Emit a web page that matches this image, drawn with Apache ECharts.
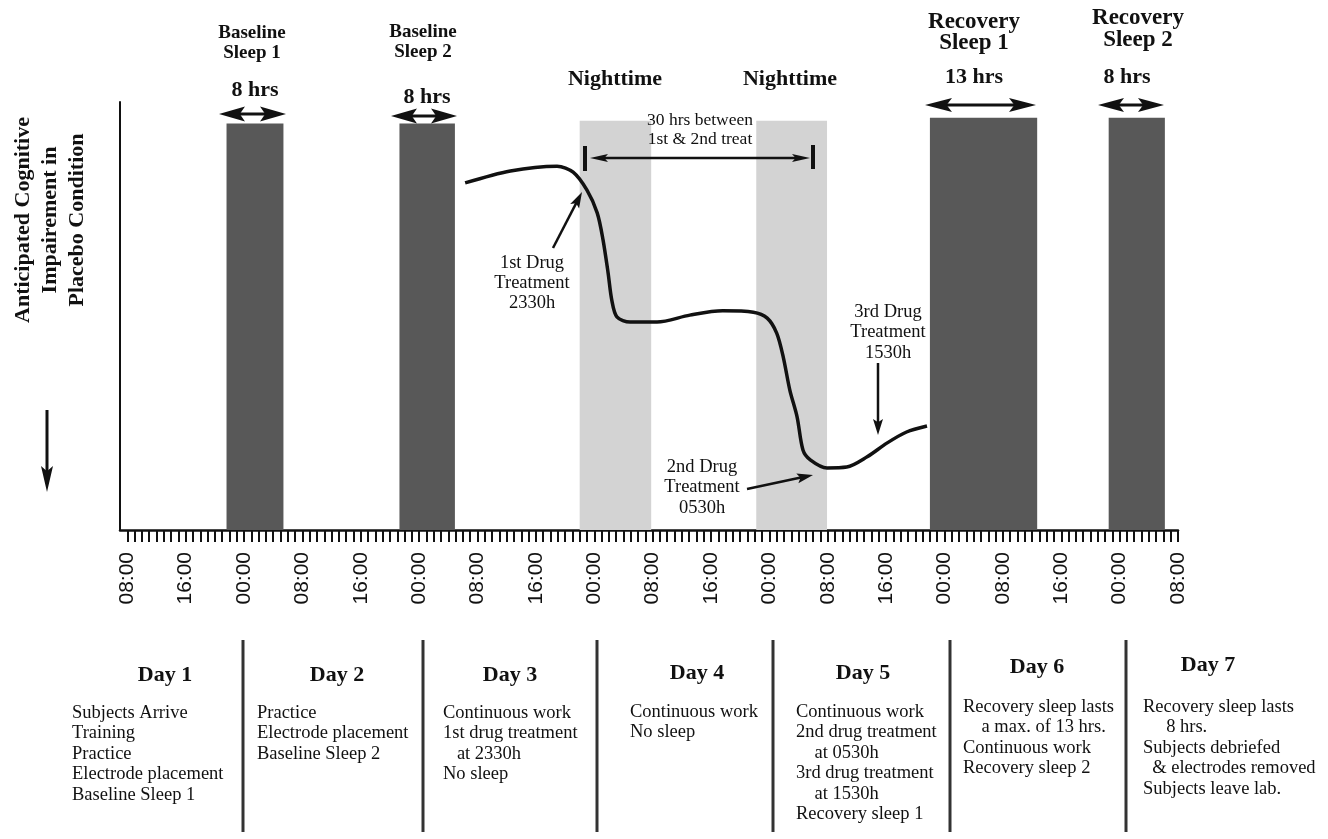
<!DOCTYPE html>
<html>
<head>
<meta charset="utf-8">
<script src="https://cdn.jsdelivr.net/npm/echarts@6/dist/echarts.min.js"></script>
<style>
  html, body { margin: 0; padding: 0; background: #fff; }
  #chart { width: 1328px; height: 839px; }
</style>
</head>
<body>
<div id="chart"></div>
<script>
// time is counted in hours from 00:00 on Day 1
var sleepStart = [21.6, 45.3, 70.0, 94.2, 118.0, 142.5];
var sleepEnd   = [29.4, 52.9, 79.8, 103.9, 132.7, 150.2];
var sleepTop   = [95.0, 95.0, 95.6, 95.6, 96.3, 96.3];
var sleepDark  = [1, 1, 0, 0, 1, 1];   // 1 = sleep, 0 = nighttime awake

// anticipated impairment curve (higher = less impaired)
var curveHours = [54.3, 60.5, 66.9, 69.1, 71.0, 72.4, 73.2, 73.9, 74.4, 75.1, 76.9, 80.6, 85.1, 89.6,
                  93.8, 95.7, 97.0, 97.9, 98.8, 99.8, 100.6, 101.6, 103.9, 106.6, 109.4, 112.1, 114.8, 117.6];
var curveLevel = [81.1, 83.9, 85.0, 83.6, 79.4, 74.1, 67.8, 60.0, 53.7, 49.8, 48.6, 48.6, 50.2, 51.2,
                  50.9, 49.5, 46.0, 40.4, 32.7, 26.4, 18.7, 16.4, 14.5, 14.7, 17.1, 20.3, 22.9, 24.3];

var dayTitles = ['Day 1', 'Day 2', 'Day 3', 'Day 4', 'Day 5', 'Day 6', 'Day 7'];
var dayNotes = [
  'Subjects Arrive\nTraining\nPractice\nElectrode placement\nBaseline Sleep 1',
  'Practice\nElectrode placement\nBaseline Sleep 2',
  'Continuous work\n1st drug treatment\n   at 2330h\nNo sleep',
  'Continuous work\nNo sleep',
  'Continuous work\n2nd drug treatment\n    at 0530h\n3rd drug treatment\n    at 1530h\nRecovery sleep 1',
  'Recovery sleep lasts\n    a max. of 13 hrs.\nContinuous work\nRecovery sleep 2',
  'Recovery sleep lasts\n     8 hrs.\nSubjects debriefed\n  & electrodes removed\nSubjects leave lab.'
];

var SERIF = '"Liberation Serif", "Times New Roman", serif';
var INK = '#111';

function txt(str, x, y, size, bold, align, lh) {
  var out = [];
  str.split('\n').forEach(function (line, i) {
    out.push({
      type: 'text', x: x, y: y + i * (lh || 0), z: 100,
      style: {
        text: line, fill: INK,
        font: (bold ? 'bold ' : '') + size + 'px ' + SERIF,
        align: align || 'center', textAlign: align || 'center',
        verticalAlign: 'middle', textVerticalAlign: 'middle'
      }
    });
  });
  return out;
}

function head(tx, ty, fx, fy, len, wid) {
  var dx = tx - fx, dy = ty - fy, d = Math.sqrt(dx * dx + dy * dy);
  var ux = dx / d, uy = dy / d, px = -uy, py = ux;
  var bx = tx - ux * len, by = ty - uy * len;
  return {
    type: 'polygon', z: 100,
    shape: { points: [[tx, ty], [bx + px * wid / 2, by + py * wid / 2],
                      [tx - ux * len * 0.8, ty - uy * len * 0.8],
                      [bx - px * wid / 2, by - py * wid / 2]] },
    style: { fill: INK }
  };
}

function line(x1, y1, x2, y2, w) {
  return { type: 'line', z: 100, shape: { x1: x1, y1: y1, x2: x2, y2: y2 },
           style: { stroke: INK, lineWidth: w || 2 } };
}

function arrow(x1, y1, x2, y2, len, wid, w) {
  var dx = x2 - x1, dy = y2 - y1, d = Math.sqrt(dx * dx + dy * dy);
  return [line(x1, y1, x2 - dx / d * len * 0.7, y2 - dy / d * len * 0.7, w),
          head(x2, y2, x1, y1, len, wid)];
}

function dblArrow(x1, x2, y, len, wid, w) {
  return [line(x1 + len * 0.7, y, x2 - len * 0.7, y, w),
          head(x1, y, x2, y, len, wid), head(x2, y, x1, y, len, wid)];
}

var g = [];
// axis title
g.push({
  type: 'text', x: 50, y: 220, rotation: Math.PI / 2, z: 100,
  style: {
    text: 'Anticipated Cognitive\nImpairement in\nPlacebo Condition', fill: INK,
    font: 'bold 22px ' + SERIF, lineHeight: 27,
    align: 'center', textAlign: 'center', verticalAlign: 'middle', textVerticalAlign: 'middle'
  }
});
g = g.concat(arrow(47, 410, 47, 492, 26, 12, 3));

// labels over the sleep periods
g = g.concat(txt('Baseline\nSleep 1', 252, 33, 19, true, 'center', 20));
g = g.concat(txt('8 hrs', 255, 90, 22, true));
g = g.concat(dblArrow(219, 286, 114, 26, 15, 3));
g = g.concat(txt('Baseline\nSleep 2', 423, 32, 19, true, 'center', 20));
g = g.concat(txt('8 hrs', 427, 97, 22, true));
g = g.concat(dblArrow(391, 457, 116, 26, 15, 3));
g = g.concat(txt('Nighttime', 615, 79, 22, true));
g = g.concat(txt('Nighttime', 790, 79, 22, true));
g = g.concat(txt('Recovery\nSleep 1', 974, 22, 23, true, 'center', 21));
g = g.concat(txt('13 hrs', 974, 77, 22, true));
g = g.concat(dblArrow(925, 1036, 105, 27, 14, 3));
g = g.concat(txt('Recovery\nSleep 2', 1138, 18, 23, true, 'center', 22));
g = g.concat(txt('8 hrs', 1127, 77, 22, true));
g = g.concat(dblArrow(1098, 1164, 105, 26, 14, 3));

// 30 hours between treatments
g = g.concat(txt('30 hrs between\n1st & 2nd treat', 700, 120, 17.5, false, 'center', 19));
g = g.concat(dblArrow(590, 810, 158, 18, 8, 2.5));
g.push(line(585, 146, 585, 171, 4));
g.push(line(813, 145, 813, 169, 4));

// treatment callouts
g = g.concat(txt('1st Drug\nTreatment\n2330h', 532, 263, 18.5, false, 'center', 20));
g = g.concat(arrow(553, 248, 582, 192, 16, 10, 2.5));
g = g.concat(txt('2nd Drug\nTreatment\n0530h', 702, 467, 18.5, false, 'center', 20.5));
g = g.concat(arrow(747, 489, 813, 475, 16, 10, 2.5));
g = g.concat(txt('3rd Drug\nTreatment\n1530h', 888, 312, 18.5, false, 'center', 20.5));
g = g.concat(arrow(878, 363, 878, 435, 16, 10, 2.5));

// day table below the axis
var dividerX = [243, 423, 597, 773, 950, 1126];
dividerX.forEach(function (x) {
  g.push({ type: 'line', z: 100, shape: { x1: x, y1: 640, x2: x, y2: 832 },
           style: { stroke: '#333', lineWidth: 3 } });
});
var titleX = [165, 337, 510, 697, 863, 1037, 1208];
var titleY = [675, 675, 675, 673, 673, 667, 665];
var noteX = [72, 257, 443, 630, 796, 963, 1143];
var noteY = [713, 713, 713, 712, 712, 707, 707];
dayTitles.forEach(function (t, i) {
  g = g.concat(txt(t, titleX[i], titleY[i], 22, true));
  g = g.concat(txt(dayNotes[i], noteX[i], noteY[i], 18.5, false, 'left', 20.5));
});

var chart = echarts.init(document.getElementById('chart'));
chart.setOption({
  animation: false,
  backgroundColor: '#fff',
  grid: { left: 120, top: 102, width: 1058, height: 428 },
  xAxis: {
    type: 'value', min: 7, max: 152, interval: 1,
    axisLine: { onZero: false, lineStyle: { color: INK, width: 2.5 } },
    axisTick: { show: true, inside: false, length: 12, lineStyle: { color: INK, width: 2 } },
    splitLine: { show: false },
    axisLabel: {
      rotate: 90, margin: 22, color: INK, fontSize: 21,
      fontFamily: '"Liberation Sans", Arial, sans-serif',
      showMinLabel: false,
      formatter: function (v) {
        if (v % 8 !== 0) return '';
        var h = v % 24;
        return (h < 10 ? '0' : '') + h + ':00';
      }
    }
  },
  yAxis: {
    type: 'value', min: 0, max: 100,
    axisLine: { show: true, onZero: false, lineStyle: { color: INK, width: 2 } },
    axisTick: { show: false }, axisLabel: { show: false }, splitLine: { show: false }
  },
  series: [
    {
      type: 'custom', z: 1, clip: false,
      data: sleepStart.map(function (s, i) { return [s, sleepEnd[i], sleepTop[i], sleepDark[i]]; }),
      encode: { x: [0, 1], y: 2 },
      renderItem: function (params, api) {
        var p0 = api.coord([api.value(0), api.value(2)]);
        var p1 = api.coord([api.value(1), 0]);
        return {
          type: 'rect',
          shape: { x: p0[0], y: p0[1], width: p1[0] - p0[0], height: p1[1] - p0[1] },
          style: { fill: api.value(3) ? '#585858' : '#d3d3d3' }
        };
      }
    },
    {
      type: 'line', z: 3, symbol: 'none', smooth: 0.3,
      data: curveHours.map(function (h, i) { return [h, curveLevel[i]]; }),
      lineStyle: { color: INK, width: 3.5 }
    }
  ],
  graphic: g
});
</script>
</body>
</html>
